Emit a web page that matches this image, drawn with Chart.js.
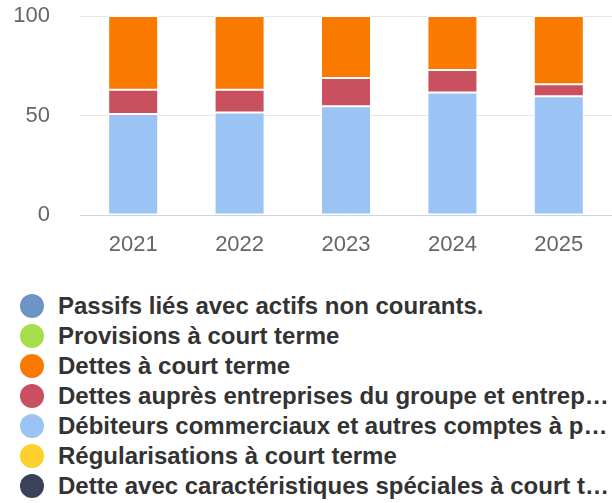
<!DOCTYPE html>
<html>
<head>
<meta charset="utf-8">
<script src="https://cdn.jsdelivr.net/npm/chart.js@4/dist/chart.umd.min.js"></script>
<style>
  html, body { margin: 0; padding: 0; background: #fff; }
  body { width: 612px; height: 503px; position: relative; overflow: hidden; font-family: "Liberation Sans", Arial, sans-serif; }
  #wrap { position: absolute; left: 0; top: 0; width: 612px; height: 262px; }
  #legend { position: absolute; left: 0; top: 291px; width: 612px; }
  .item { position: relative; height: 30px; }
  .dot { position: absolute; left: 20px; top: 3px; width: 24px; height: 24px; border-radius: 50%; }
  .lbl { position: absolute; left: 58px; top: 1px; width: 551px; white-space: nowrap; overflow: hidden; text-overflow: ellipsis;
         font: bold 24px "Liberation Sans", Arial, sans-serif; color: #333; line-height: 28px; }
</style>
</head>
<body>
<div id="wrap"><canvas id="c" width="612" height="262"></canvas></div>
<div id="legend"></div>
<script>
const categories = ["2021", "2022", "2023", "2024", "2025"];
const seriesNames = [
  "Passifs liés avec actifs non courants.",
  "Provisions à court terme",
  "Dettes à court terme",
  "Dettes auprès entreprises du groupe et entreprises associées à court terme",
  "Débiteurs commerciaux et autres comptes à payer",
  "Régularisations à court terme",
  "Dette avec caractéristiques spéciales à court terme"
];
const passifs = [0, 0, 0, 0, 0];
const provisions = [0, 0, 0, 0, 0];
const dettesCourt = [37.0, 37.0, 31.1, 27.1, 34.3];
const dettesGroupe = [12.3, 11.5, 14.2, 11.3, 6.0];
const debiteurs = [50.7, 51.5, 54.7, 61.6, 59.7];
const regularisations = [0, 0, 0, 0, 0];
const detteSpeciale = [0, 0, 0, 0, 0];
const yTicks = [0, 50, 100];

const seriesValues = [passifs, provisions, dettesCourt, dettesGroupe, debiteurs, regularisations, detteSpeciale];
const colors = ["#6d94c4", "#a7de4b", "#fa7a00", "#c8505f", "#9bc3f4", "#fed02d", "#394258"];

// Chart.js stacks from first dataset at bottom; the reference stacks first series on top.
const datasets = seriesNames.map((name, i) => ({
  label: name,
  data: seriesValues[i],
  backgroundColor: colors[i],
  borderColor: "#ffffff",
  borderWidth: 1,
  borderSkipped: false
})).reverse();

new Chart(document.getElementById("c"), {
  type: "bar",
  data: { labels: categories, datasets },
  options: {
    responsive: false,
    animation: false,
    layout: { padding: { left: 0, top: 16, right: 0, bottom: 0 } },
    plugins: { legend: { display: false }, tooltip: { enabled: false } },
    datasets: { bar: { categoryPercentage: 1, barPercentage: 0.47 } },
    scales: {
      x: {
        stacked: true,
        grid: { display: false, drawTicks: false },
        border: { display: true, color: "#ccd6eb", width: 1 },
        ticks: { color: "#666666", font: { family: "Liberation Sans", size: 22 }, padding: 17, maxRotation: 0 },
        afterFit: (axis) => { axis.height = 47; axis.paddingLeft = 0; axis.paddingRight = 0; }
      },
      y: {
        stacked: true,
        min: 0, max: 100,
        afterBuildTicks: (axis) => { axis.ticks = yTicks.map(v => ({ value: v })); },
        grid: { color: "#e6e6e6", lineWidth: 1, drawTicks: false },
        border: { display: false },
        ticks: { color: "#666666", font: { family: "Liberation Sans", size: 22 }, padding: 30 },
        afterFit: (axis) => { axis.width = 80; axis.paddingTop = 0; axis.paddingBottom = 0; }
      }
    }
  }
});

const legend = document.getElementById("legend");
seriesNames.forEach((name, i) => {
  const item = document.createElement("div");
  item.className = "item";
  const dot = document.createElement("span");
  dot.className = "dot";
  dot.style.background = colors[i];
  const lbl = document.createElement("span");
  lbl.className = "lbl";
  lbl.textContent = name;
  item.appendChild(dot);
  item.appendChild(lbl);
  legend.appendChild(item);
});
</script>
</body>
</html>
